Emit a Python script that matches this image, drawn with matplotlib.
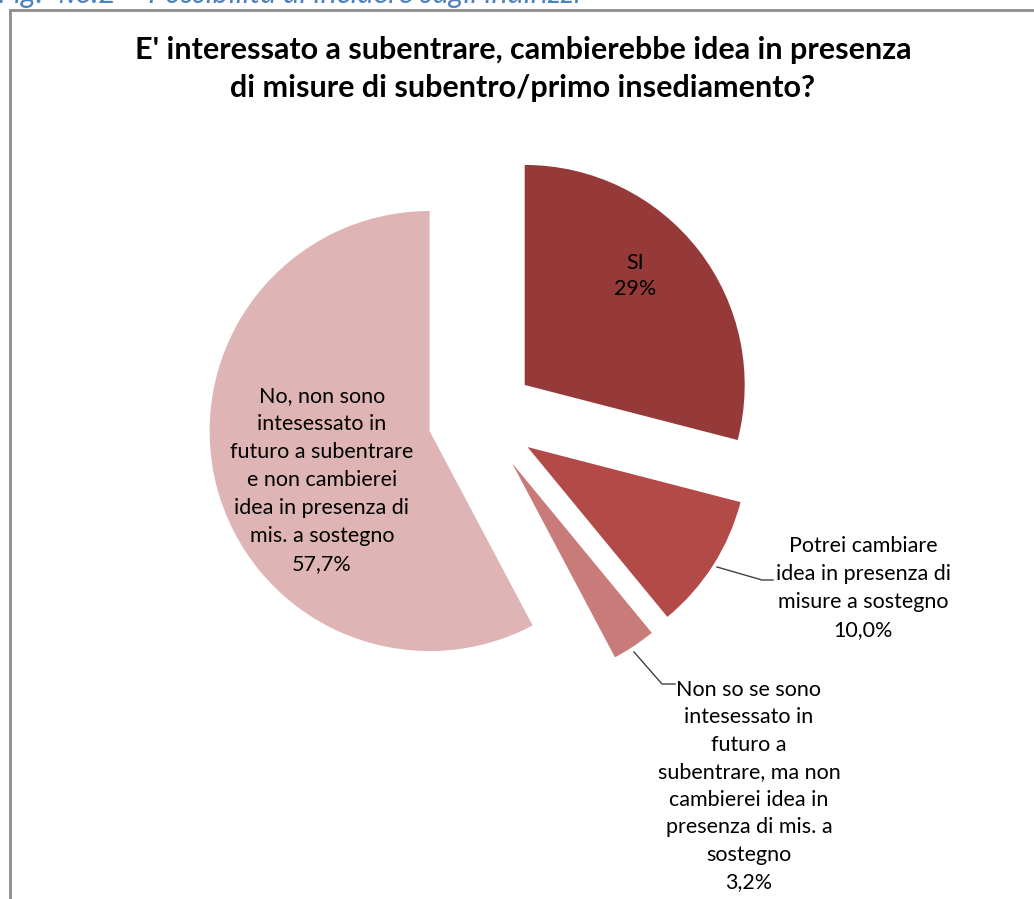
import matplotlib
matplotlib.use("Agg")
from matplotlib import pyplot as plt
from matplotlib.patches import Rectangle

plt.rcParams['font.family'] = ['Lato', 'DejaVu Sans']

# survey answers, clockwise from 12 o'clock
labels = ["SI\n29%",
          "Potrei cambiare\nidea in presenza di\nmisure a sostegno\n10,0%",
          "Non so se sono\nintesessato in\nfuturo a\nsubentrare, ma non\ncambierei idea in\npresenza di mis. a\nsostegno\n3,2%",
          "No, non sono\nintesessato in\nfuturo a subentrare\ne non cambierei\nidea in presenza di\nmis. a sostegno\n57,7%"]
values = [29.0, 10.0, 3.2, 57.7]
colors = ['#953a39', '#b24a48', '#c97b7a', '#dfb4b4']

title = "E' interessato a subentrare, cambierebbe idea in presenza\ndi misure di subentro/primo insediamento?"
caption = "Fig. 4.6.2 \u2013 Possibilit\u00e0 di incidere sugli indirizzi"

W, H = 1034, 899
fig = plt.figure(figsize=(W / 100, H / 100), dpi=100)
ax = fig.add_axes([0, 0, 1, 1])

wedges, _ = ax.pie(values, colors=colors, startangle=90, counterclock=False,
                   radius=220, center=(482, H - 418), explode=[54] * 4,
                   normalize=True, frame=True)
ax.set_xlim(0, W)
ax.set_ylim(0, H)
ax.set_aspect('equal')
ax.axis('off')

# chart frame (runs off the page on the right and bottom)
ax.add_patch(Rectangle((10, -20), W + 20, H - 10 + 20, fill=False,
                       edgecolor='#8c8c8c', linewidth=2))

# figure caption, mostly clipped at the top
ax.text(-2, H - 3, caption, fontsize=22, style='italic', color='#4f81bd',
        ha='left', va='baseline')

ax.text(523, H - 69, title, fontsize=22, fontweight='bold', ha='center',
        va='center', linespacing=1.42)

fs = 15.5
ax.text(635, H - 276, labels[0], fontsize=fs, ha='center', va='center', linespacing=1.35)
ax.text(322, H - 480, labels[3], fontsize=fs, ha='center', va='center', linespacing=1.5)
ax.text(863, H - 588, labels[1], fontsize=fs, ha='center', va='center', linespacing=1.5)
ax.text(749, H - 786, labels[2], fontsize=fs, ha='center', va='center', linespacing=1.47)

# leader lines
ax.plot([717, 762, 773], [H - 567, H - 580, H - 580], color='#404040', lw=1)
ax.plot([634, 662, 675], [H - 652, H - 684, H - 684], color='#404040', lw=1)

fig.savefig("out.png", dpi=100)
